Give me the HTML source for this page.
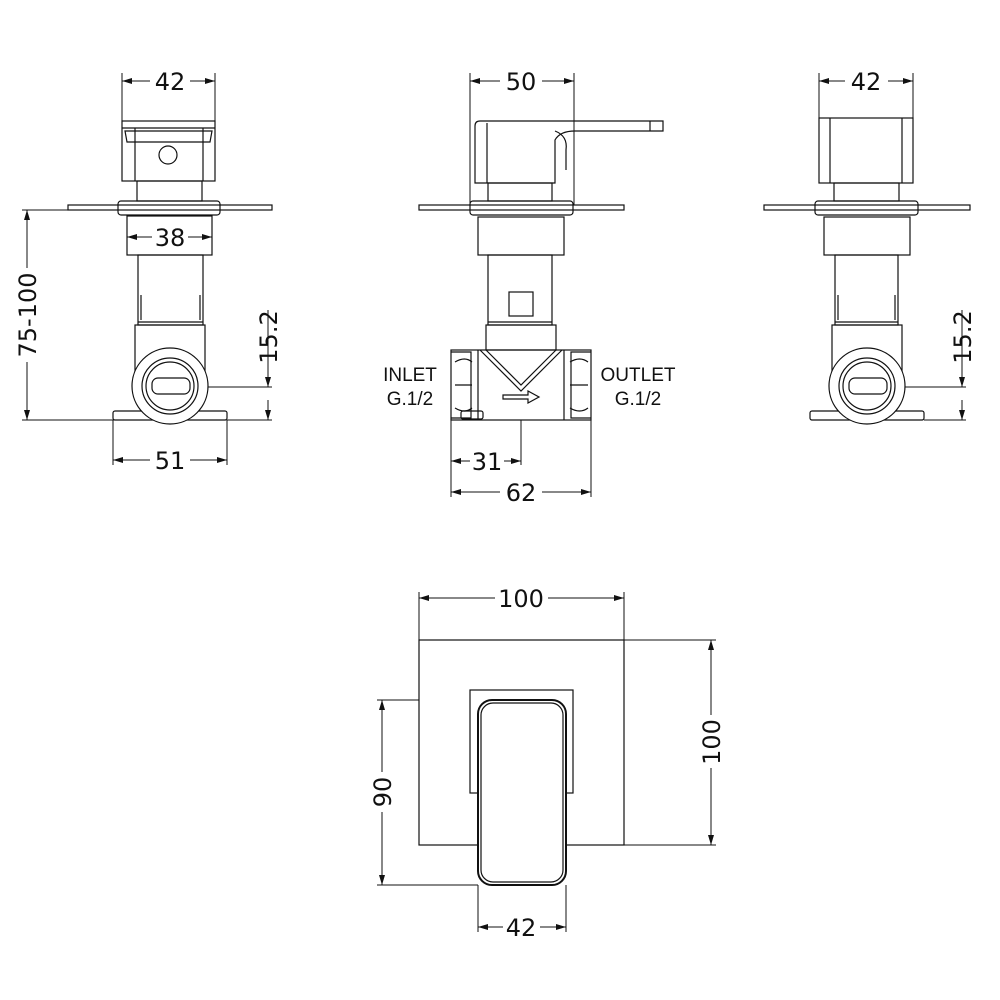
<!DOCTYPE html>
<html><head><style>body{margin:0;background:#fff}svg{display:block}text{font-family:"DejaVu Sans","Liberation Sans",sans-serif;font-size:24px;fill:#111}text.sm{font-family:"Liberation Sans",sans-serif;font-size:19px}</style></head>
<body>
<svg width="1000" height="1000" viewBox="0 0 1000 1000" xmlns="http://www.w3.org/2000/svg">
<defs>
<marker id="a" viewBox="0 0 10 6" refX="10" refY="3" markerWidth="10" markerHeight="6" orient="auto-start-reverse" markerUnits="userSpaceOnUse"><path d="M0,0L10,3L0,6z" fill="#111"/></marker>
</defs>
<g fill="none" stroke="#111" stroke-width="1.2">
<g stroke-width="1">
<line x1="122" y1="73" x2="122" y2="121"/><line x1="215" y1="73" x2="215" y2="121"/>
<line x1="122" y1="81" x2="150" y2="81" marker-start="url(#a)"/><line x1="190" y1="81" x2="215" y2="81" marker-end="url(#a)"/>
<line x1="127" y1="237" x2="152" y2="237" marker-start="url(#a)"/><line x1="188" y1="237" x2="212" y2="237" marker-end="url(#a)"/>
<line x1="22" y1="210" x2="68" y2="210"/><line x1="22" y1="420" x2="135" y2="420"/>
<line x1="27" y1="210" x2="27" y2="268" marker-start="url(#a)"/><line x1="27" y1="362" x2="27" y2="420" marker-end="url(#a)"/>
<line x1="205" y1="387" x2="272" y2="387"/><line x1="227" y1="420" x2="272" y2="420"/>
<line x1="268" y1="310" x2="268" y2="387" marker-end="url(#a)"/><line x1="268" y1="420" x2="268" y2="400" marker-start="url(#a)"/>
<line x1="113" y1="420" x2="113" y2="465"/><line x1="227" y1="420" x2="227" y2="465"/>
<line x1="113" y1="460" x2="150" y2="460" marker-start="url(#a)"/><line x1="190" y1="460" x2="227" y2="460" marker-end="url(#a)"/>
<line x1="470" y1="73" x2="470" y2="205"/><line x1="574" y1="73" x2="574" y2="205"/>
<line x1="470" y1="81" x2="500" y2="81" marker-start="url(#a)"/><line x1="542" y1="81" x2="574" y2="81" marker-end="url(#a)"/>
<line x1="451" y1="420" x2="451" y2="497"/><line x1="591" y1="420" x2="591" y2="497"/><line x1="521" y1="420" x2="521" y2="465"/>
<line x1="451" y1="461" x2="470" y2="461" marker-start="url(#a)"/><line x1="504" y1="461" x2="521" y2="461" marker-end="url(#a)"/>
<line x1="451" y1="492" x2="500" y2="492" marker-start="url(#a)"/><line x1="542" y1="492" x2="591" y2="492" marker-end="url(#a)"/>
<line x1="819" y1="73" x2="819" y2="118"/><line x1="913" y1="73" x2="913" y2="118"/>
<line x1="819" y1="81" x2="845" y2="81" marker-start="url(#a)"/><line x1="888" y1="81" x2="913" y2="81" marker-end="url(#a)"/>
<line x1="900" y1="387" x2="966" y2="387"/><line x1="924" y1="420" x2="966" y2="420"/>
<line x1="962" y1="310" x2="962" y2="387" marker-end="url(#a)"/><line x1="962" y1="420" x2="962" y2="400" marker-start="url(#a)"/>
<line x1="419" y1="592" x2="419" y2="640"/><line x1="624" y1="592" x2="624" y2="640"/>
<line x1="419" y1="598" x2="495" y2="598" marker-start="url(#a)"/><line x1="548" y1="598" x2="624" y2="598" marker-end="url(#a)"/>
<line x1="624" y1="640" x2="716" y2="640"/><line x1="624" y1="845" x2="716" y2="845"/>
<line x1="711" y1="640" x2="711" y2="715" marker-start="url(#a)"/><line x1="711" y1="768" x2="711" y2="845" marker-end="url(#a)"/>
<line x1="377" y1="700" x2="419" y2="700"/><line x1="377" y1="885" x2="478" y2="885"/>
<line x1="382" y1="700" x2="382" y2="772" marker-start="url(#a)"/><line x1="382" y1="812" x2="382" y2="885" marker-end="url(#a)"/>
<line x1="478" y1="885" x2="478" y2="932"/><line x1="566" y1="885" x2="566" y2="932"/>
<line x1="478" y1="927" x2="503" y2="927" marker-start="url(#a)"/><line x1="540" y1="927" x2="566" y2="927" marker-end="url(#a)"/>
</g>

<rect x="122" y="121" width="93" height="60"/>
<line x1="122" y1="128" x2="215" y2="128"/><path d="M125,131 L212,131 L210,142 L127,142 Z"/>
<line x1="135" y1="128" x2="135" y2="181"/><line x1="203" y1="128" x2="203" y2="181"/>
<circle cx="168" cy="155" r="9"/>
<rect x="137" y="181" width="65" height="20"/>
<rect x="68" y="205" width="204" height="5"/>
<rect x="118" y="201" width="102" height="14" rx="3"/>
<rect x="127" y="216" width="85" height="39"/>
<rect x="138" y="255" width="65" height="70"/>
<line x1="141" y1="295" x2="141" y2="320"/><line x1="200" y1="295" x2="200" y2="320"/>
<line x1="138" y1="322" x2="203" y2="322"/>
<rect x="135" y="325" width="70" height="55"/>
<rect x="113" y="411" width="114" height="9" rx="2"/>
<circle cx="170" cy="386" r="38" fill="#fff"/>
<circle cx="170" cy="386" r="28"/><circle cx="170" cy="386" r="24"/>
<rect x="152" y="378" width="38" height="16" rx="6"/>

<path d="M475,126 Q475,121 480,121 L663,121 L663,131 L575,131 Q560,131 555,140 L555,183 L475,183 Z"/>
<line x1="487" y1="123" x2="487" y2="183"/><line x1="650" y1="121" x2="650" y2="131"/>
<path d="M555,131 Q568,136 566,150 L566,170"/>
<rect x="488" y="183" width="64" height="18"/>
<rect x="419" y="205" width="205" height="5"/>
<rect x="470" y="201" width="103" height="14" rx="3"/>
<rect x="478" y="217" width="86" height="38"/>
<rect x="488" y="255" width="64" height="70"/>
<rect x="509" y="292" width="24" height="24"/>
<line x1="488" y1="322" x2="552" y2="322"/>
<rect x="486" y="325" width="70" height="25"/>
<rect x="451" y="350" width="140" height="70"/>
<path d="M451,352 h20 v66 h-20 M591,352 h-20 v66 h20"/>
<line x1="478" y1="350" x2="478" y2="420"/><line x1="564" y1="350" x2="564" y2="420"/>
<path d="M455,362 Q465,356 472,362 M455,408 Q465,414 472,408 M570,362 Q580,356 588,362 M570,408 Q580,414 588,408"/>
<line x1="455" y1="385" x2="472" y2="385"/><line x1="570" y1="385" x2="588" y2="385"/>
<path d="M486,350 L521,385 L556,350 M480,350 L521,391 L562,350"/>
<path d="M503,395 L528,395 L528,391 L539,397 L528,403 L528,399 L503,399 Z"/>
<rect x="461" y="411" width="22" height="8" rx="2"/>

<rect x="819" y="118" width="94" height="65"/>
<line x1="830" y1="118" x2="830" y2="183"/><line x1="902" y1="118" x2="902" y2="183"/>
<rect x="834" y="183" width="65" height="18"/>
<rect x="764" y="205" width="206" height="5"/>
<rect x="815" y="201" width="103" height="14" rx="3"/>
<rect x="824" y="217" width="86" height="38"/>
<rect x="835" y="255" width="63" height="70"/>
<line x1="838" y1="295" x2="838" y2="320"/><line x1="895" y1="295" x2="895" y2="320"/>
<line x1="835" y1="322" x2="898" y2="322"/>
<rect x="832" y="325" width="70" height="55"/>
<rect x="810" y="411" width="114" height="9" rx="2"/>
<circle cx="867" cy="386" r="38" fill="#fff"/>
<circle cx="867" cy="386" r="28"/><circle cx="867" cy="386" r="24"/>
<rect x="849" y="378" width="38" height="16" rx="6"/>

<rect x="419" y="640" width="205" height="205"/>
<rect x="470" y="690" width="103" height="103" fill="#fff"/>
<rect x="478" y="700" width="88" height="185" rx="14" fill="#fff" stroke-width="2"/>
<rect x="481" y="703" width="82" height="179" rx="12"/>
</g>

<g text-anchor="middle">
<text x="170" y="90">42</text>
<text x="170" y="246">38</text>
<text x="170" y="469">51</text>
<text x="521" y="90">50</text>
<text x="487" y="470">31</text>
<text x="521" y="501">62</text>
<text x="866" y="90">42</text>
<text x="521" y="607">100</text>
<text x="521" y="936">42</text>
<text x="36" y="315" transform="rotate(-90 36 315)">75-100</text>
<text x="277" y="337" transform="rotate(-90 277 337)">15.2</text>
<text x="971" y="337" transform="rotate(-90 971 337)">15.2</text>
<text x="720" y="742" transform="rotate(-90 720 742)">100</text>
<text x="391" y="792" transform="rotate(-90 391 792)">90</text>
<text class="sm" x="410" y="381">INLET</text><text class="sm" x="410" y="405">G.1/2</text>
<text class="sm" x="638" y="381">OUTLET</text><text class="sm" x="638" y="405">G.1/2</text>
</g>
</svg>
</body></html>
